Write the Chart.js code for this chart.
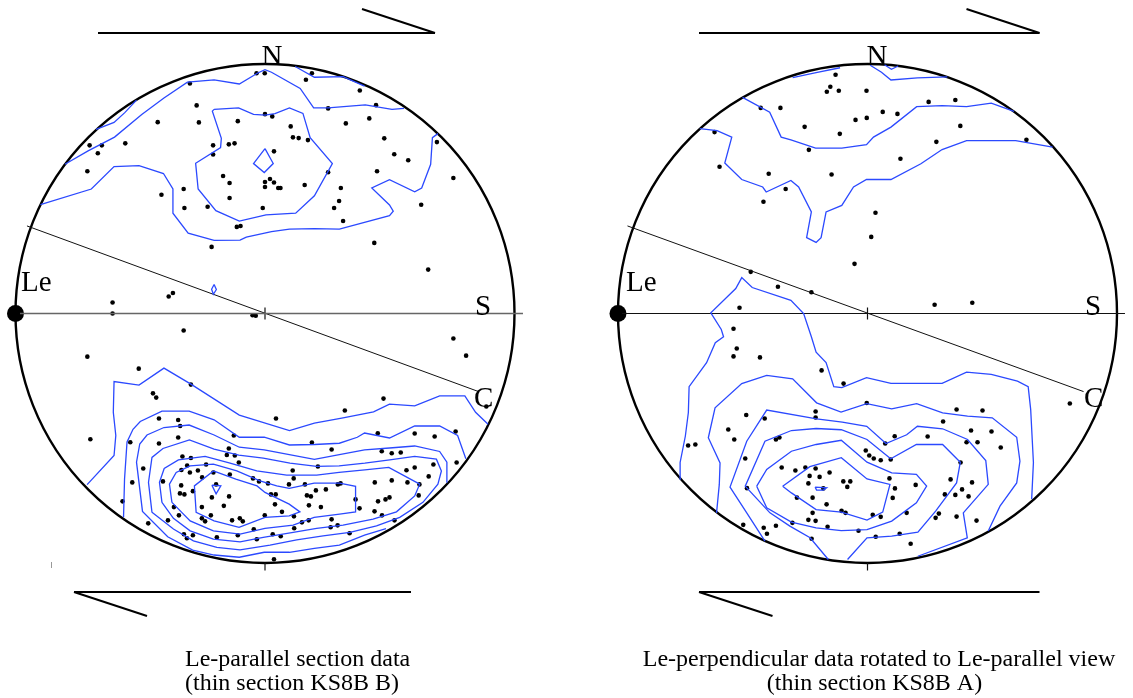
<!DOCTYPE html>
<html><head><meta charset="utf-8">
<script src="https://cdn.jsdelivr.net/npm/chart.js@4.4.0/dist/chart.umd.min.js"></script>
<style>html,body{margin:0;padding:0;background:#fff;overflow:hidden}canvas{display:block}</style>
</head><body>
<canvas id="c" width="1133" height="698"></canvas>
<script>
// ---------- DATA (projection coordinates, unit = net radius) ----------
const leftPoints = [
[-0.034,0.963],[-0.001,0.963],[0.188,0.963],[0.164,0.937],[-0.301,0.922],[0.380,0.894],[-0.274,0.834],[0.445,0.835],[0.253,0.822],[0.000,0.799],[0.029,0.790],[-0.430,0.767],[-0.265,0.766],[-0.109,0.771],[0.418,0.782],[0.324,0.762],[0.103,0.750],[0.478,0.702],[0.112,0.706],[0.135,0.703],[0.172,0.695],[-0.703,0.674],[-0.654,0.674],[-0.560,0.682],[-0.208,0.674],[-0.145,0.678],[-0.122,0.682],[0.036,0.650],[-0.670,0.642],[-0.208,0.637],[0.518,0.638],[0.574,0.614],[0.689,0.687],[-0.712,0.570],[0.253,0.566],[0.449,0.570],[-0.168,0.551],[0.755,0.543],[-0.142,0.523],[0.000,0.527],[0.020,0.539],[0.036,0.525],[0.000,0.507],[0.053,0.503],[0.062,0.503],[0.159,0.515],[0.304,0.503],[-0.415,0.476],[-0.326,0.499],[-0.142,0.463],[0.297,0.451],[-0.323,0.423],[-0.230,0.428],[-0.009,0.423],[0.277,0.423],[0.626,0.436],[0.313,0.371],[-0.113,0.347],[-0.098,0.351],[-0.214,0.267],[0.438,0.283],[0.654,0.176],[-0.386,0.068],[-0.369,0.082],[-0.611,0.044],[-0.611,0.000],[-0.050,-0.007],[-0.037,-0.009],[-0.326,-0.068],[0.755,-0.100],
[0.806,-0.169],[-0.712,-0.173],[-0.506,-0.221],[-0.700,-0.504],
[-0.297,-0.285],[-0.449,-0.320],[-0.436,-0.337],[0.475,-0.341],[0.320,-0.389],[0.044,-0.421],[0.887,-0.373],[-0.425,-0.421],[-0.348,-0.427],[-0.340,-0.451],[-0.125,-0.489],[-0.540,-0.516],[-0.425,-0.521],[-0.348,-0.497],[0.452,-0.480],[0.600,-0.481],[0.680,-0.493],[0.764,-0.473],[0.188,-0.517],[0.267,-0.545],[-0.145,-0.541],[-0.153,-0.567],[-0.121,-0.569],[0.468,-0.552],[0.508,-0.560],[0.544,-0.557],[-0.331,-0.573],[-0.297,-0.579],[-0.105,-0.597],[-0.488,-0.621],[-0.335,-0.627],[-0.312,-0.609],[-0.301,-0.637],[-0.269,-0.629],[-0.236,-0.605],[0.212,-0.613],[0.111,-0.629],[0.115,-0.661],[0.600,-0.617],[0.567,-0.628],[0.675,-0.605],[0.768,-0.597],[0.656,-0.653],[-0.532,-0.677],[-0.409,-0.673],[-0.252,-0.657],[-0.207,-0.637],[-0.141,-0.645],[-0.048,-0.661],[-0.024,-0.673],[0.012,-0.681],[-0.196,-0.685],[0.096,-0.685],[0.160,-0.685],[0.292,-0.685],[0.303,-0.681],[0.440,-0.677],[0.508,-0.669],[0.571,-0.677],[0.619,-0.685],[0.616,-0.729],[-0.336,-0.689],[-0.289,-0.712],[-0.341,-0.721],[-0.323,-0.725],[-0.213,-0.737],[-0.144,-0.733],[0.024,-0.725],[0.043,-0.725],[0.168,-0.729],[0.184,-0.733],[0.204,-0.709],[0.244,-0.705],[0.363,-0.745],[0.453,-0.753],[0.483,-0.745],[0.499,-0.737],[-0.571,-0.753],[-0.365,-0.776],[-0.253,-0.776],[-0.165,-0.771],[0.040,-0.765],[0.176,-0.769],[0.224,-0.776],[0.068,-0.795],[0.379,-0.781],[0.439,-0.793],[-0.345,-0.809],[-0.217,-0.809],[-0.253,-0.821],[-0.240,-0.833],[-0.001,-0.809],[-0.101,-0.821],[-0.089,-0.833],[-0.132,-0.829],[-0.389,-0.829],[0.116,-0.813],[0.175,-0.829],[0.148,-0.837],[0.267,-0.825],[0.291,-0.849],[0.263,-0.857],[0.469,-0.809],[0.519,-0.829],[-0.468,-0.841],[0.117,-0.861],[-0.045,-0.865],[-0.325,-0.885],[-0.313,-0.901],[-0.289,-0.889],[-0.193,-0.897],[-0.109,-0.889],[-0.033,-0.905],[0.031,-0.885],[0.063,-0.893],[0.339,-0.881],[0.036,-0.985]
];
const rightPoints = [
[-0.128,0.957],[-0.149,0.909],[-0.163,0.889],[-0.115,0.893],[-0.004,0.893],[0.245,0.848],[0.352,0.856],[-0.428,0.824],[-0.349,0.824],[0.061,0.808],[0.120,0.800],[-0.003,0.784],[-0.048,0.776],[-0.252,0.748],[0.372,0.752],[-0.613,0.727],[-0.111,0.720],[0.276,0.688],[0.637,0.696],[-0.235,0.656],[0.132,0.620],[-0.593,0.588],[-0.396,0.560],[-0.144,0.557],[-0.328,0.499],[-0.417,0.448],[0.032,0.404],[0.015,0.307],[-0.052,0.199],[-0.468,0.167],[-0.359,0.107],[-0.225,0.085],[0.269,0.035],[0.420,0.043],[-0.513,0.023],[-0.537,-0.061],
[-0.524,-0.140],[-0.537,-0.172],[-0.431,-0.176],
[-0.184,-0.228],[-0.096,-0.281],[0.811,-0.361],[-0.003,-0.359],[0.357,-0.385],[0.461,-0.389],[-0.208,-0.393],[-0.208,-0.417],[-0.486,-0.407],[-0.412,-0.421],[0.303,-0.433],[-0.558,-0.465],[-0.534,-0.505],[0.415,-0.469],[0.497,-0.473],[0.109,-0.492],[0.241,-0.493],[-0.367,-0.505],[-0.353,-0.497],[0.071,-0.521],[0.397,-0.516],[0.441,-0.516],[0.534,-0.537],[-0.719,-0.529],[-0.690,-0.525],[-0.007,-0.549],[0.007,-0.569],[0.025,-0.581],[0.053,-0.588],[0.093,-0.585],[-0.490,-0.581],[0.373,-0.597],[-0.344,-0.617],[-0.289,-0.629],[-0.249,-0.617],[-0.208,-0.621],[-0.152,-0.637],[-0.232,-0.651],[-0.192,-0.655],[0.088,-0.661],[0.333,-0.665],[0.419,-0.677],[-0.097,-0.673],[-0.069,-0.673],[-0.081,-0.695],[-0.237,-0.681],[-0.177,-0.701],[0.110,-0.701],[0.193,-0.687],[-0.483,-0.700],[0.379,-0.705],[0.352,-0.727],[0.405,-0.733],[0.310,-0.725],[0.101,-0.739],[-0.283,-0.738],[-0.220,-0.738],[-0.164,-0.765],[-0.220,-0.799],[-0.104,-0.791],[-0.088,-0.799],[0.021,-0.807],[0.053,-0.815],[0.157,-0.799],[0.286,-0.802],[0.273,-0.819],[0.357,-0.814],[0.437,-0.830],[-0.237,-0.827],[-0.208,-0.831],[-0.301,-0.839],[-0.160,-0.855],[-0.498,-0.847],[-0.416,-0.859],[-0.367,-0.851],[-0.403,-0.883],[-0.036,-0.871],[0.129,-0.883],[0.033,-0.895],[-0.224,-0.903],[0.173,-0.923]
];
const leftContours = [
[[-0.677,0.738],[-0.605,0.766],[-0.562,0.805],[-0.515,0.855]],
[[-0.802,0.598],[-0.709,0.652],[-0.603,0.707],[-0.494,0.798],[-0.405,0.864],[-0.311,0.927],[-0.204,0.936],[-0.103,0.920],[-0.029,0.964],[0.000,0.977],[0.026,0.967],[0.141,0.902],[0.195,0.824],[0.253,0.824],[0.402,0.836],[0.509,0.818],[0.557,0.822]],
[[0.121,0.990],[0.198,0.947],[0.313,0.949],[0.399,0.911]],
[[-0.900,0.436],[-0.696,0.499],[-0.605,0.589],[-0.505,0.593],[-0.407,0.561],[-0.369,0.499],[-0.369,0.402],[-0.308,0.322],[-0.204,0.293],[-0.100,0.294],[-0.075,0.306],[0.026,0.328],[0.098,0.338],[0.198,0.340],[0.298,0.338],[0.499,0.392],[0.514,0.410],[0.499,0.435],[0.428,0.503],[0.499,0.536],[0.600,0.488],[0.628,0.503],[0.664,0.598],[0.671,0.705],[0.693,0.721]],
[[-0.204,0.818],[-0.106,0.824],[-0.046,0.798],[0.000,0.795],[0.040,0.801],[0.098,0.824],[0.152,0.802],[0.181,0.705],[0.270,0.601],[0.198,0.472],[0.123,0.402],[0.004,0.395],[-0.103,0.370],[-0.197,0.412],[-0.268,0.499],[-0.278,0.602],[-0.178,0.665],[-0.175,0.702],[-0.211,0.811],[-0.204,0.818]],
[[0.000,0.661],[0.033,0.601],[-0.003,0.565],[-0.046,0.601],[0.000,0.661]],
[[-0.204,0.116],[-0.195,0.096],[-0.207,0.077],[-0.214,0.097],[-0.204,0.116]],
[[-0.713,-0.686],[-0.605,-0.569],[-0.598,-0.489],[-0.608,-0.396],[-0.605,-0.273],[-0.505,-0.287],[-0.405,-0.219],[-0.297,-0.283],[-0.103,-0.407],[0.098,-0.469],[0.198,-0.439],[0.313,-0.418],[0.435,-0.394],[0.499,-0.363],[0.600,-0.370],[0.700,-0.330],[0.801,-0.330],[0.844,-0.396],[0.894,-0.444]],
[[-0.567,-0.817],[-0.563,-0.664],[-0.553,-0.515],[-0.529,-0.464],[-0.500,-0.433],[-0.413,-0.391],[-0.304,-0.391],[-0.204,-0.426],[-0.103,-0.496],[-0.003,-0.496],[0.098,-0.527],[0.198,-0.525],[0.298,-0.520],[0.370,-0.496],[0.399,-0.479],[0.499,-0.499],[0.600,-0.451],[0.700,-0.451],[0.772,-0.489],[0.805,-0.582]],
[[0.729,-0.678],[0.729,-0.596],[0.700,-0.553],[0.600,-0.531],[0.499,-0.539],[0.399,-0.547],[0.298,-0.566],[0.198,-0.585],[-0.003,-0.547],[-0.103,-0.536],[-0.204,-0.487],[-0.304,-0.447],[-0.405,-0.457],[-0.473,-0.487],[-0.502,-0.523],[-0.515,-0.596],[-0.491,-0.793],[-0.390,-0.895],[-0.290,-0.948],[-0.204,-0.968],[-0.103,-0.977],[-0.003,-0.957],[0.098,-0.957],[0.198,-0.941],[0.298,-0.928],[0.399,-0.888],[0.485,-0.862]],
[[-0.453,-0.797],[-0.467,-0.677],[-0.453,-0.577],[-0.409,-0.541],[-0.303,-0.507],[-0.204,-0.544],[-0.105,-0.568],[-0.007,-0.580],[0.100,-0.600],[0.207,-0.613],[0.297,-0.611],[0.400,-0.600],[0.500,-0.587],[0.600,-0.573],[0.687,-0.584],[0.707,-0.631],[0.693,-0.684],[0.633,-0.757],[0.540,-0.817],[0.447,-0.851],[0.340,-0.877],[0.233,-0.891],[0.127,-0.907],[0.020,-0.928],[-0.100,-0.947],[-0.193,-0.937],[-0.287,-0.911],[-0.367,-0.864],[-0.453,-0.797]],
[[-0.413,-0.757],[-0.423,-0.677],[-0.404,-0.621],[-0.347,-0.587],[-0.240,-0.573],[-0.140,-0.600],[-0.033,-0.631],[0.087,-0.648],[0.207,-0.648],[0.297,-0.637],[0.400,-0.627],[0.496,-0.617],[0.620,-0.684],[0.600,-0.731],[0.527,-0.795],[0.433,-0.824],[0.313,-0.848],[0.207,-0.861],[0.113,-0.877],[-0.007,-0.897],[-0.100,-0.915],[-0.207,-0.904],[-0.300,-0.871],[-0.367,-0.821],[-0.413,-0.757]],
[[-0.373,-0.757],[-0.383,-0.684],[-0.356,-0.637],[-0.300,-0.611],[-0.207,-0.604],[-0.113,-0.631],[-0.020,-0.671],[0.047,-0.691],[0.097,-0.701],[0.197,-0.680],[0.299,-0.680],[0.363,-0.693],[0.363,-0.795],[0.299,-0.804],[0.197,-0.817],[0.113,-0.848],[0.000,-0.861],[-0.100,-0.884],[-0.207,-0.871],[-0.300,-0.831],[-0.373,-0.757]],
[[-0.207,-0.631],[-0.117,-0.664],[-0.032,-0.691],[0.000,-0.717],[0.097,-0.764],[0.140,-0.795],[0.097,-0.811],[0.000,-0.817],[-0.104,-0.857],[-0.204,-0.831],[-0.276,-0.797],[-0.283,-0.691],[-0.207,-0.631]],
[[-0.213,-0.688],[-0.177,-0.691],[-0.196,-0.723],[-0.213,-0.688]]
];
const rightContours = [
[[-0.300,0.945],[-0.206,0.965],[-0.110,0.985]],
[[0.011,0.995],[0.056,0.967],[0.094,0.936],[0.200,0.944],[0.320,0.948]],
[[0.068,0.997],[0.096,0.979],[0.123,0.992]],
[[-0.501,0.866],[-0.392,0.807],[-0.346,0.707],[-0.307,0.696],[-0.208,0.663],[-0.103,0.663],[-0.004,0.677],[0.024,0.707],[0.094,0.747],[0.197,0.829],[0.299,0.833],[0.397,0.829],[0.496,0.843],[0.587,0.810]],
[[-0.672,0.741],[-0.603,0.733],[-0.544,0.707],[-0.572,0.603],[-0.504,0.537],[-0.420,0.507],[-0.406,0.487],[-0.307,0.533],[-0.276,0.507],[-0.225,0.407],[-0.244,0.304],[-0.206,0.285],[-0.186,0.304],[-0.166,0.407],[-0.103,0.433],[-0.056,0.507],[-0.004,0.537],[0.094,0.537],[0.214,0.600],[0.299,0.657],[0.397,0.693],[0.496,0.693],[0.594,0.693],[0.742,0.667]],
[[-0.748,-0.664],[-0.751,-0.597],[-0.730,-0.491],[-0.718,-0.397],[-0.715,-0.293],[-0.645,-0.197],[-0.610,-0.117],[-0.577,-0.093],[-0.586,-0.064],[-0.628,0.003],[-0.528,0.100],[-0.504,0.144],[-0.462,0.104],[-0.307,0.053],[-0.256,0.000],[-0.225,-0.093],[-0.206,-0.155],[-0.166,-0.197],[-0.135,-0.293],[-0.103,-0.297],[-0.004,-0.257],[0.094,-0.280],[0.299,-0.280],[0.397,-0.235],[0.496,-0.244],[0.601,-0.271],[0.644,-0.293],[0.654,-0.384],[0.665,-0.597],[0.658,-0.744]],
[[-0.605,-0.799],[-0.594,-0.685],[-0.591,-0.599],[-0.638,-0.498],[-0.611,-0.378],[-0.504,-0.281],[-0.404,-0.248],[-0.300,-0.262],[-0.204,-0.358],[-0.106,-0.395],[-0.003,-0.361],[0.097,-0.382],[0.197,-0.361],[0.301,-0.398],[0.401,-0.411],[0.500,-0.418],[0.598,-0.496],[0.611,-0.592],[0.598,-0.679],[0.531,-0.772],[0.484,-0.872]],
[[-0.411,-0.912],[-0.484,-0.799],[-0.551,-0.696],[-0.484,-0.512],[-0.404,-0.387],[-0.204,-0.422],[-0.101,-0.435],[-0.003,-0.452],[0.074,-0.521],[0.157,-0.486],[0.200,-0.452],[0.301,-0.462],[0.401,-0.505],[0.474,-0.589],[0.484,-0.685],[0.384,-0.799],[0.400,-0.899],[0.202,-0.973]],
[[-0.157,-0.986],[-0.230,-0.899],[-0.311,-0.852],[-0.391,-0.799],[-0.490,-0.692],[-0.411,-0.512],[-0.305,-0.469],[-0.206,-0.461],[-0.105,-0.466],[-0.002,-0.505],[0.093,-0.582],[0.196,-0.525],[0.301,-0.525],[0.372,-0.596],[0.357,-0.679],[0.273,-0.792],[0.202,-0.876],[0.097,-0.892],[-0.002,-0.899],[-0.080,-0.986]],
[[-0.444,-0.692],[-0.404,-0.625],[-0.305,-0.552],[-0.206,-0.525],[-0.105,-0.508],[-0.002,-0.596],[0.097,-0.639],[0.196,-0.645],[0.237,-0.692],[0.196,-0.759],[0.097,-0.832],[-0.002,-0.866],[-0.105,-0.870],[-0.206,-0.859],[-0.305,-0.836],[-0.404,-0.779],[-0.444,-0.692]],
[[-0.340,-0.692],[-0.231,-0.614],[-0.105,-0.578],[-0.002,-0.663],[0.090,-0.685],[0.061,-0.796],[-0.002,-0.828],[-0.105,-0.796],[-0.206,-0.786],[-0.305,-0.719],[-0.340,-0.692]],
[[-0.210,-0.696],[-0.164,-0.699],[-0.177,-0.708],[-0.204,-0.708],[-0.210,-0.696]]
];
const leftTrace  = [[-0.954,0.351],[0.856,-0.313]];
const rightTrace = [[-0.962,0.351],[0.866,-0.313]];
const leftAxis   = [[-0.982,0],[1.034,0]];
const rightAxis  = [[-0.984,0],[1.032,0]];
const lineation  = [[-1,0]];
const labelsNet  = ['N','S','Le','C'];
const captionLeft  = ['Le-parallel section data','(thin section KS8B B)'];
const captionRight = ['Le-perpendicular data rotated to Le-parallel view','(thin section KS8B A)'];

// ---------- LAYOUT ----------
const W = 1133, H = 698, CXL = 265, CXR = 867.5, CY = 313.5, RAD = 249.5;
const BLUE = '#2b49ff';
const xy = a => a.map(p => ({x:p[0], y:p[1]}));

const datasets = [];
function addNet(axisId, contours, pts, axis, trace, axisColor, axisWidth){
  contours.forEach(c => datasets.push({data:xy(c), xAxisID:axisId, yAxisID:'y', showLine:true, borderColor:BLUE, borderWidth:1.3, pointRadius:0, fill:false, tension:0}));
  datasets.push({data:xy(axis), xAxisID:axisId, yAxisID:'y', showLine:true, borderColor:axisColor, borderWidth:axisWidth, pointRadius:0});
  datasets.push({data:xy(trace), xAxisID:axisId, yAxisID:'y', showLine:true, borderColor:'#111', borderWidth:1, pointRadius:0});
  datasets.push({data:xy(pts), xAxisID:axisId, yAxisID:'y', isPts:true, showLine:false, pointRadius:2.3, pointBackgroundColor:'#000', pointBorderWidth:0});
  datasets.push({data:xy(lineation), xAxisID:axisId, yAxisID:'y', showLine:false, pointRadius:8.5, pointBackgroundColor:'#000', pointBorderWidth:0});
}
addNet('xL', leftContours, leftPoints, leftAxis, leftTrace, '#666', 1.5);
addNet('xR', rightContours, rightPoints, rightAxis, rightTrace, '#111', 1);

function geo(chart, id){
  const xs = chart.scales[id], ys = chart.scales.y;
  const cx = xs.getPixelForValue(0), cy = ys.getPixelForValue(0);
  return {cx, cy, r: xs.getPixelForValue(1) - cx};
}
function seg(ctx, x1, y1, x2, y2){ ctx.beginPath(); ctx.moveTo(x1,y1); ctx.lineTo(x2,y2); ctx.stroke(); }

const decor = {
  id:'decor',
  beforeDraw(chart){ const c = chart.ctx; c.save(); c.fillStyle='#fff'; c.fillRect(0,0,chart.width,chart.height); c.restore(); },
  beforeDatasetDraw(chart, args){
    const ds = chart.data.datasets[args.index];
    if (!ds.isPts) return;
    const g = geo(chart, ds.xAxisID), c = chart.ctx;
    c.save(); c.strokeStyle='#000'; c.lineWidth=2.4;
    c.beginPath(); c.arc(g.cx, g.cy, g.r, 0, Math.PI*2); c.stroke();
    c.lineWidth=1.2; c.strokeStyle='#111';
    seg(c, g.cx, g.cy-6, g.cx, g.cy+6);
    seg(c, g.cx, g.cy+g.r, g.cx, g.cy+g.r+7.5);
    c.restore();
  },
  afterDatasetsDraw(chart){
    const c = chart.ctx;
    const L = geo(chart,'xL'), R = geo(chart,'xR');
    c.save();
    c.fillStyle = '#000';
    c.font = '29px "Liberation Serif", "Times New Roman", serif';
    c.textBaseline = 'alphabetic';
    [[L,7,-1],[R,9.5,1.5]].forEach(([g,nOff,sh]) => {
      c.textAlign = 'center'; c.fillText(labelsNet[0], g.cx+nOff, g.cy-248.5);
      c.textAlign = 'left';
      c.fillText(labelsNet[1], g.cx+213+sh*3, g.cy+1.5);
      c.fillText(labelsNet[2], g.cx-243+sh, g.cy-22.5);
      c.fillText(labelsNet[3], g.cx+212+sh*3, g.cy+93.5);
    });
    // shear-sense half arrows
    c.strokeStyle = '#000'; c.lineWidth = 2; c.lineCap = 'butt';
    seg(c, L.cx-167, L.cy-280.5, L.cx+170, L.cy-280.5); seg(c, L.cx+170, L.cy-280.5, L.cx+97, L.cy-304.5);
    seg(c, L.cx-191, L.cy+278.5, L.cx+146, L.cy+278.5); seg(c, L.cx-191, L.cy+278.5, L.cx-118, L.cy+302.5);
    seg(c, R.cx-168.5, R.cy-280.5, R.cx+172, R.cy-280.5); seg(c, R.cx+172, R.cy-280.5, R.cx+99, R.cy-304.5);
    seg(c, R.cx-168.5, R.cy+278.5, R.cx+172, R.cy+278.5); seg(c, R.cx-168.5, R.cy+278.5, R.cx-95, R.cy+302.5);
    // tiny mark
    c.strokeStyle = '#999'; c.lineWidth = 1;
    seg(c, L.cx-213.5, L.cy+248.5, L.cx-213.5, L.cy+254.5);
    // captions
    c.font = '24px "Liberation Serif", "Times New Roman", serif';
    c.textAlign = 'left';
    c.fillText(captionLeft[0], L.cx-80, L.cy+352.5);
    c.fillText(captionLeft[1], L.cx-80, L.cy+376.5);
    c.textAlign = 'center';
    c.fillText(captionRight[0], R.cx+11.5, R.cy+352.5);
    c.fillText(captionRight[1], R.cx+7, R.cy+376.5);
    c.restore();
  }
};

new Chart(document.getElementById('c'), {
  type:'scatter',
  data:{datasets},
  plugins:[decor],
  options:{
    responsive:false, animation:false, devicePixelRatio:1,
    layout:{padding:0, autoPadding:false},
    plugins:{legend:{display:false}, tooltip:{enabled:false}},
    elements:{line:{borderCapStyle:'butt'}},
    scales:{
      xL:{type:'linear', display:false, min:-CXL/RAD, max:(W-CXL)/RAD},
      xR:{type:'linear', display:false, min:-CXR/RAD, max:(W-CXR)/RAD},
      y:{type:'linear', display:false, min:-(H-CY)/RAD, max:CY/RAD}
    }
  }
});
</script>
</body></html>
